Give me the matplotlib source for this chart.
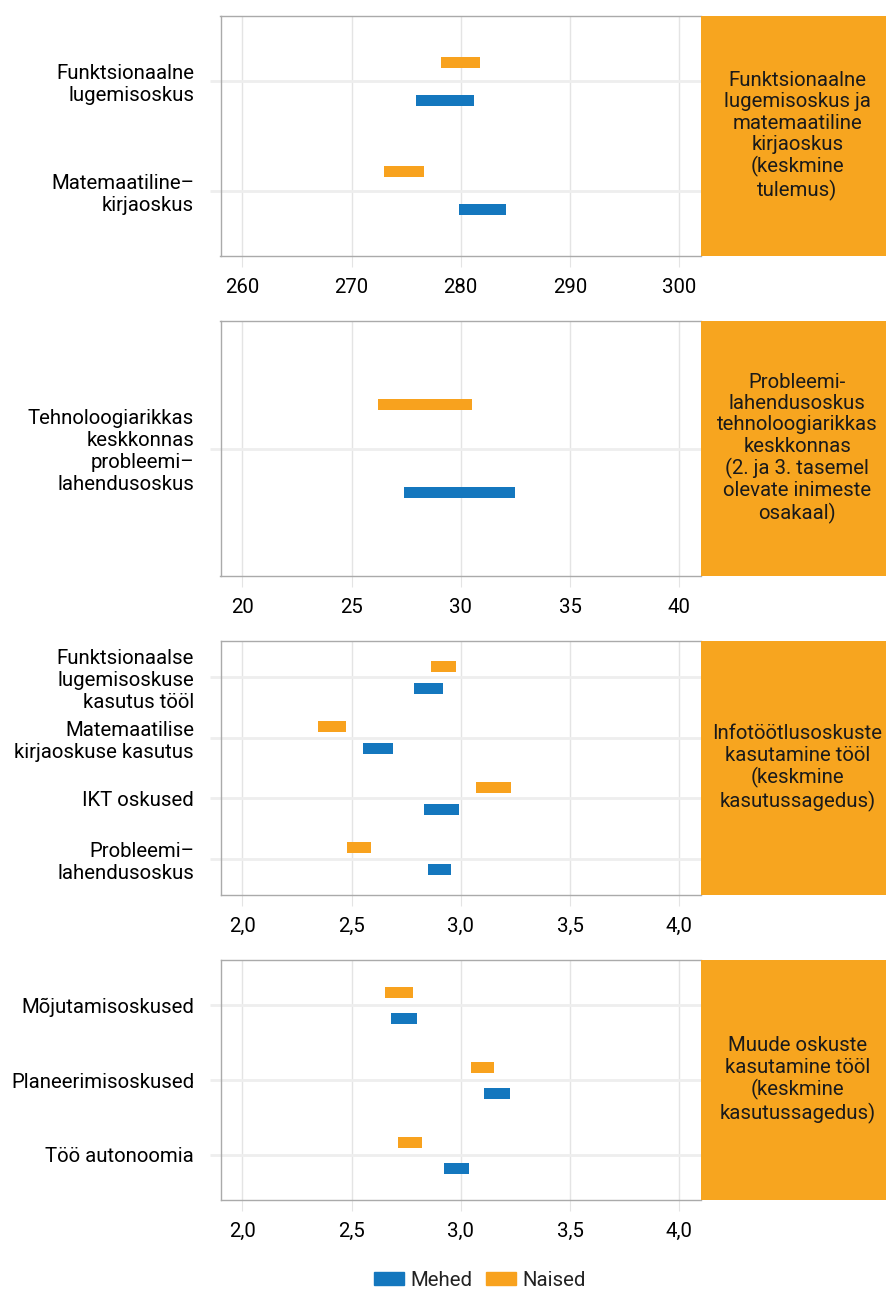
import matplotlib
matplotlib.use('Agg')
import matplotlib.pyplot as plt
from matplotlib.patches import Patch
from matplotlib.ticker import FuncFormatter

plt.rcParams['font.family'] = ['Roboto', 'DejaVu Sans']
plt.rcParams['font.size'] = 14.7
plt.rcParams['text.color'] = '#222222'

# ---- andmed ----
p1_labels = ['Funktsionaalne\nlugemisoskus', 'Matemaatiline–\nkirjaoskus']
p1_naised = [(278.2, 281.8), (273.0, 276.6)]
p1_mehed = [(275.9, 281.2), (279.8, 284.1)]
p1_box = 'Funktsionaalne\nlugemisoskus ja\nmatemaatiline\nkirjaoskus\n(keskmine\ntulemus)'

p2_labels = ['Tehnoloogiarikkas\nkeskkonnas\nprobleemi–\nlahendusoskus']
p2_naised = [(26.2, 30.5)]
p2_mehed = [(27.4, 32.5)]
p2_box = ('Probleemi-\nlahendusoskus\ntehnoloogiarikkas\nkeskkonnas\n'
          '(2. ja 3. tasemel\nolevate inimeste\nosakaal)')

p3_labels = ['Funktsionaalse\nlugemisoskuse\nkasutus tööl',
             'Matemaatilise\nkirjaoskuse kasutus',
             'IKT oskused',
             'Probleemi–\nlahendusoskus']
p3_naised = [(2.862, 2.978), (2.346, 2.474), (3.070, 3.228), (2.479, 2.589)]
p3_mehed = [(2.787, 2.920), (2.552, 2.688), (2.832, 2.992), (2.850, 2.957)]
p3_box = 'Infotöötlusoskuste\nkasutamine tööl\n(keskmine\nkasutussagedus)'

p4_labels = ['Mõjutamisoskused', 'Planeerimisoskused', 'Töö autonoomia']
p4_naised = [(2.653, 2.780), (3.047, 3.152), (2.713, 2.821)]
p4_mehed = [(2.680, 2.800), (3.106, 3.227), (2.923, 3.037)]
p4_box = 'Muude oskuste\nkasutamine tööl\n(keskmine\nkasutussagedus)'

W, H = 886, 1289
BLUE = '#1477be'
ORANGE = '#f8a21e'
BOXCOL = '#f7a51f'
FS = 14.7

fig = plt.figure(figsize=(W / 100, H / 100), dpi=100)

panels = [
    # labels, naised, mehed, box, xlim, ticks, comma, top px, bottom px, off px
    (p1_labels, p1_naised, p1_mehed, p1_box, (258, 302), [260, 270, 280, 290, 300], False, 16, 256, 19),
    (p2_labels, p2_naised, p2_mehed, p2_box, (19, 41), [20, 25, 30, 35, 40], False, 321, 576, 44),
    (p3_labels, p3_naised, p3_mehed, p3_box, (1.9, 4.1), [2.0, 2.5, 3.0, 3.5, 4.0], True, 641, 895, 11),
    (p4_labels, p4_naised, p4_mehed, p4_box, (1.9, 4.1), [2.0, 2.5, 3.0, 3.5, 4.0], True, 960, 1200, 13),
]

x0, x1, xb = 220.5, 701, 886
for labels, naised, mehed, boxtxt, xlim, ticks, comma, top, bot, offpx in panels:
    ax = fig.add_axes([x0 / W, 1 - bot / H, (x1 - x0) / W, (bot - top) / H])
    n = len(labels)
    pxunit = (bot - top) / (n - 1 + 1.2)
    off = offpx / pxunit
    bh = 11 / pxunit
    ys = list(range(n))
    ax.barh([y - off for y in ys], [b - a for a, b in naised], left=[a for a, b in naised],
            height=bh, color=ORANGE, zorder=3)
    ax.barh([y + off for y in ys], [b - a for a, b in mehed], left=[a for a, b in mehed],
            height=bh, color=BLUE, zorder=3)
    ax.set_ylim(n - 1 + 0.6, -0.6)
    ax.set_xlim(*xlim)
    ax.set_yticks(ys)
    ax.set_yticklabels(labels)
    ax.set_xticks(ticks)
    if comma:
        ax.xaxis.set_major_formatter(FuncFormatter(lambda v, p: ('%.1f' % v).replace('.', ',')))
    ax.grid(axis='x', color='#e4e4e4', linewidth=1, zorder=0)
    ax.grid(axis='y', color='#eeeeee', linewidth=2, zorder=0)
    ax.tick_params(axis='x', length=8, color='#e4e4e4', pad=8, labelsize=FS)
    ax.tick_params(axis='y', length=8, color='#eeeeee', width=2, pad=11, labelsize=FS)
    for s in ax.spines.values():
        s.set_color('#aaaaaa')
        s.set_linewidth(1)
    ax.spines['right'].set_visible(False)

    bx = fig.add_axes([x1 / W, 1 - bot / H, (xb - x1) / W, (bot - top) / H])
    bx.set_facecolor(BOXCOL)
    bx.set_xticks([])
    bx.set_yticks([])
    for s in bx.spines.values():
        s.set_visible(False)
    bx.text(0.52, 0.5, boxtxt, ha='center', va='center', fontsize=FS,
            linespacing=1.15, transform=bx.transAxes, color='#1a1a1a')

handles = [Patch(color=BLUE, label='Mehed'), Patch(color=ORANGE, label='Naised')]
fig.legend(handles=handles, loc='center', bbox_to_anchor=(480 / W, 1 - 1280 / H),
           ncol=2, frameon=False, handlelength=1.45, handleheight=0.65,
           handletextpad=0.3, columnspacing=0.7, fontsize=FS)

fig.savefig('out.png', dpi=100)
